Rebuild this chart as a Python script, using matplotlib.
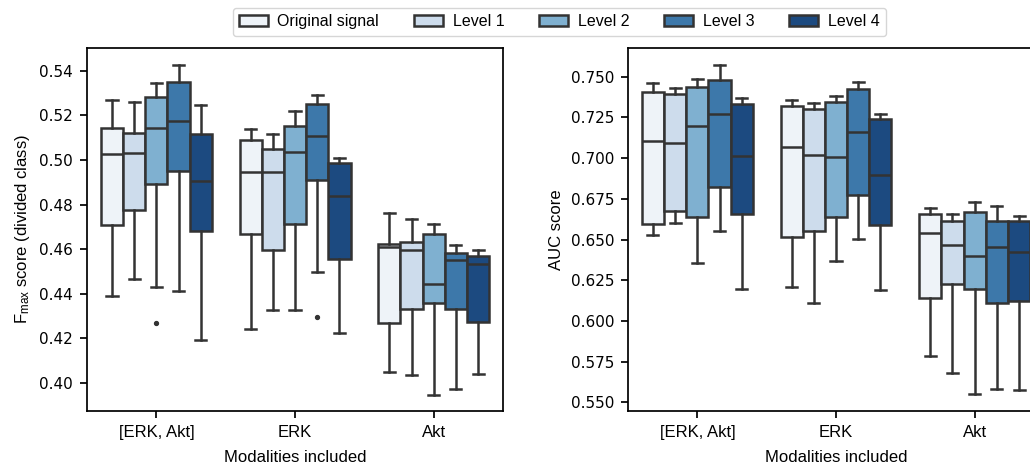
import matplotlib
matplotlib.use("Agg")
import matplotlib.pyplot as plt
from matplotlib.patches import Patch

# categories and hue levels
groups = ["[ERK, Akt]", "ERK", "Akt"]
levels = ["Original signal", "Level 1", "Level 2", "Level 3", "Level 4"]

# F_max score, rows = groups, columns = levels
fmax_low = [[0.4388, 0.4467, 0.4431, 0.4410, 0.4190],
            [0.4240, 0.4325, 0.4325, 0.4496, 0.4223],
            [0.4048, 0.4035, 0.3943, 0.3970, 0.4039]]
fmax_q1 = [[0.4707, 0.4774, 0.4894, 0.4952, 0.4680],
           [0.4669, 0.4594, 0.4711, 0.4909, 0.4556],
           [0.4267, 0.4333, 0.4359, 0.4333, 0.4274]]
fmax_med = [[0.5026, 0.5030, 0.5142, 0.5175, 0.4907],
            [0.4945, 0.4945, 0.5036, 0.5107, 0.4840],
            [0.4608, 0.4596, 0.4442, 0.4551, 0.4535]]
fmax_q3 = [[0.5142, 0.5120, 0.5285, 0.5352, 0.5116],
           [0.5092, 0.5050, 0.5151, 0.5252, 0.4987],
           [0.4623, 0.4630, 0.4669, 0.4584, 0.4569]]
fmax_high = [[0.5270, 0.5262, 0.5346, 0.5425, 0.5246],
             [0.5138, 0.5119, 0.5222, 0.5292, 0.5009],
             [0.4762, 0.4735, 0.4713, 0.4617, 0.4594]]
fmax_outliers = {(0, 2): [0.4268], (1, 3): [0.4295]}

# AUC score
auc_low = [[0.6529, 0.6600, 0.6355, 0.6553, 0.6194],
           [0.6210, 0.6112, 0.6367, 0.6504, 0.6192],
           [0.5782, 0.5680, 0.5549, 0.5580, 0.5576]]
auc_q1 = [[0.6594, 0.6673, 0.6639, 0.6820, 0.6655],
          [0.6516, 0.6551, 0.6639, 0.6776, 0.6590],
          [0.6139, 0.6224, 0.6198, 0.6108, 0.6122]]
auc_med = [[0.7108, 0.7094, 0.7198, 0.7269, 0.7010],
           [0.7067, 0.7020, 0.7006, 0.7159, 0.6898],
           [0.6537, 0.6467, 0.6398, 0.6455, 0.6424]]
auc_q3 = [[0.7404, 0.7394, 0.7439, 0.7480, 0.7331],
          [0.7318, 0.7302, 0.7345, 0.7427, 0.7241],
          [0.6659, 0.6612, 0.6667, 0.6612, 0.6612]]
auc_high = [[0.7459, 0.7429, 0.7484, 0.7569, 0.7369],
            [0.7359, 0.7337, 0.7384, 0.7467, 0.7271],
            [0.6694, 0.6659, 0.6729, 0.6706, 0.6643]]
auc_outliers = {}

fmax_ticks = [0.40, 0.42, 0.44, 0.46, 0.48, 0.50, 0.52, 0.54]
auc_ticks = [0.550, 0.575, 0.600, 0.625, 0.650, 0.675, 0.700, 0.725, 0.750]

plt.rcParams['font.family'] = ['Liberation Sans', 'DejaVu Sans']
plt.rcParams['mathtext.fontset'] = 'custom'
plt.rcParams['mathtext.rm'] = 'Liberation Sans'
plt.rcParams['mathtext.it'] = 'Liberation Sans:italic'

# desaturated "Blues" palette as seen in the figure
colors = ["#eef3f8", "#cddcec", "#7fb0d0", "#3d78aa", "#1c4a80"]
line_col = "#333333"
box_w = 0.8 / len(levels)
lw = 1.8


def draw(ax, low, q1, med, q3, high, outliers, ylabel, ylim, yticks, fmt):
    for i in range(len(groups)):
        for j in range(len(levels)):
            stats = [dict(whislo=low[i][j], q1=q1[i][j], med=med[i][j],
                          q3=q3[i][j], whishi=high[i][j],
                          fliers=outliers.get((i, j), []))]
            pos = i + (j - (len(levels) - 1) / 2) * box_w
            ax.bxp(stats, positions=[pos], widths=box_w, patch_artist=True,
                   manage_ticks=False,
                   boxprops=dict(facecolor=colors[j], edgecolor=line_col, linewidth=lw),
                   medianprops=dict(color=line_col, linewidth=lw),
                   whiskerprops=dict(color=line_col, linewidth=lw),
                   capprops=dict(color=line_col, linewidth=lw),
                   flierprops=dict(marker='o', markersize=2.8, markerfacecolor=line_col,
                                   markeredgecolor=line_col))
    ax.set_xlim(-0.5, len(groups) - 0.5)
    ax.set_ylim(*ylim)
    ax.set_xticks(range(len(groups)))
    ax.set_xticklabels(groups, fontsize=12)
    ax.set_yticks(yticks)
    ax.set_yticklabels([fmt.format(t) for t in yticks],
                       fontfamily='DejaVu Sans', fontsize=11)
    ax.set_xlabel("Modalities included", fontsize=12, labelpad=7)
    ax.set_ylabel(ylabel, fontsize=12, labelpad=5)
    ax.tick_params(length=5, width=1.25, pad=5, color='black')
    for s in ax.spines.values():
        s.set_linewidth(1.25)
        s.set_color('black')


fig = plt.figure(figsize=(10.3, 4.73), dpi=100)
ax1 = fig.add_axes([0.0845, 0.1311, 0.4039, 0.7674])
ax2 = fig.add_axes([0.6097, 0.1311, 0.4039, 0.7674])

draw(ax1, fmax_low, fmax_q1, fmax_med, fmax_q3, fmax_high, fmax_outliers,
     r"F$_{\mathrm{max}}$ score (divided class)", (0.3873, 0.5503), fmax_ticks, "{:.2f}")
draw(ax2, auc_low, auc_q1, auc_med, auc_q3, auc_high, auc_outliers,
     "AUC score", (0.5447, 0.7676), auc_ticks, "{:.3f}")

handles = [Patch(facecolor=c, edgecolor=line_col, linewidth=lw) for c in colors]
fig.legend(handles, levels, loc='upper center', bbox_to_anchor=(0.543, 1.0),
           ncol=len(levels), fontsize=11.5, frameon=True, edgecolor='#cccccc',
           handlelength=1.8, handleheight=0.65, handletextpad=0.6,
           columnspacing=2.2)

fig.savefig("out.png", dpi=100)
